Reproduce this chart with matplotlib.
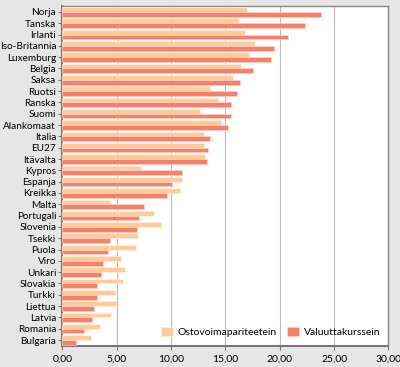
import numpy as np
import matplotlib.pyplot as plt
from matplotlib.ticker import FuncFormatter

plt.rcParams['font.family'] = ['Lato', 'DejaVu Sans']

countries = ['Norja', 'Tanska', 'Irlanti', 'Iso-Britannia', 'Luxemburg', 'Belgia',
             'Saksa', 'Ruotsi', 'Ranska', 'Suomi', 'Alankomaat', 'Italia', 'EU27',
             'Itävalta', 'Kypros', 'Espanja', 'Kreikka', 'Malta', 'Portugali',
             'Slovenia', 'Tsekki', 'Puola', 'Viro', 'Unkari', 'Slovakia', 'Turkki',
             'Liettua', 'Latvia', 'Romania', 'Bulgaria']

ppp = [17.0, 16.2, 16.8, 17.7, 17.2, 16.4, 15.7, 13.6, 14.3, 12.7, 14.6, 13.0, 13.0,
       13.1, 7.2, 11.0, 10.85, 4.35, 8.4, 9.1, 6.95, 6.75, 5.35, 5.8, 5.55, 4.8,
       4.9, 4.5, 3.45, 2.6]
fx = [23.8, 22.3, 20.8, 19.5, 19.2, 17.5, 16.3, 16.1, 15.5, 15.5, 15.2, 13.6, 13.4,
      13.3, 11.05, 10.1, 9.6, 7.5, 7.05, 6.85, 4.35, 4.2, 3.7, 3.55, 3.2, 3.2,
      2.9, 2.75, 2.0, 1.25]

ppp_label = 'Ostovoimapariteetein'
fx_label = 'Valuuttakurssein'

fig = plt.figure(figsize=(4.0, 3.67), dpi=100, facecolor='#e6e6e6')
ax = fig.add_axes([0.156, 0.058, 0.815, 0.925])
ax.set_facecolor('white')

y = np.arange(len(countries))
h = 0.42
ax.barh(y - h / 2, ppp, height=h, color='#ffcc99', edgecolor='#fff0e0', linewidth=0.5,
        label=ppp_label, zorder=3)
ax.barh(y + h / 2, fx, height=h, color='#f7806a', edgecolor='#ffd0c8', linewidth=0.5,
        label=fx_label, zorder=3)

ax.set_ylim(len(countries) - 0.5, -0.5)
ax.set_xlim(0, 30)
ax.set_yticks(y)
ax.set_yticklabels(countries, fontsize=7.2)
ax.set_xticks(np.arange(0, 31, 5))
ax.xaxis.set_major_formatter(FuncFormatter(lambda v, p: f'{v:.2f}'.replace('.', ',')))
ax.tick_params(axis='x', labelsize=7.5, length=3, color='#777777')
ax.tick_params(axis='y', length=3, color='#777777', pad=1.5)
ax.grid(axis='x', color='#bbbbbb', linewidth=0.8, zorder=0)

for side in ['left', 'bottom']:
    ax.spines[side].set_color('#777777')
    ax.spines[side].set_linewidth(1.5)
for side in ['top', 'right']:
    ax.spines[side].set_color('#888888')
    ax.spines[side].set_linewidth(1.0)

ax.legend(loc='lower right', ncol=2, frameon=False, fontsize=7.5, handlelength=1.2,
          handleheight=0.9, columnspacing=1.0, handletextpad=0.4,
          bbox_to_anchor=(1.0, 0.0), borderaxespad=0.4)

plt.savefig('out.png', dpi=100, facecolor=fig.get_facecolor())
